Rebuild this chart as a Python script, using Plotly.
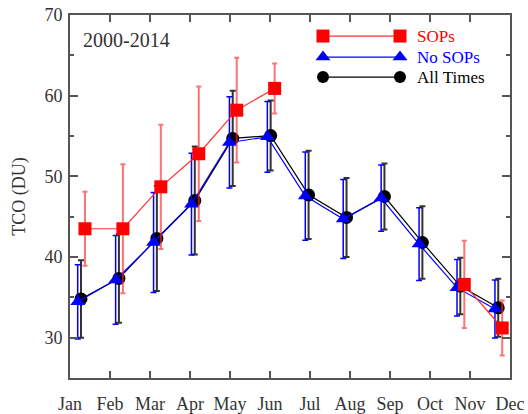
import plotly.graph_objects as go

# ---------------- data ----------------
months = ["Jan", "Feb", "Mar", "Apr", "May", "Jun",
          "Jul", "Aug", "Sep", "Oct", "Nov", "Dec"]
month_num = [1, 2, 3, 4, 5, 6, 7, 8, 9, 10, 11, 12]

sops = [43.5, 43.5, 48.7, 52.8, 58.2, 60.9, None, None, None, None, 36.6, 31.2]
sops_err = [4.6, 8.0, 7.7, 8.35, 6.5, 3.1, None, None, None, None, 5.4, 3.4]

no_sops = [34.45, 37.15, 41.8, 46.55, 54.2, 54.9, 47.55, 44.7, 47.3, 41.6, 36.2, 33.55]
no_sops_err = [4.6, 5.5, 6.2, 6.3, 5.66, 4.38, 5.47, 4.9, 4.1, 4.5, 3.5, 3.6]

all_times = [34.8, 37.35, 42.3, 47.0, 54.7, 55.05, 47.7, 44.9, 47.5, 41.8, 36.4, 33.7]
all_times_err = [4.8, 5.5, 6.5, 6.7, 5.9, 4.34, 5.47, 4.9, 4.1, 4.5, 3.5, 3.6]

series_names = ["SOPs", "No SOPs", "All Times"]
period_label = "2000-2014"

# ---------------- styling ----------------
FONT = "Liberation Serif, Times New Roman, serif"
RED, BLUE, BLACK = "#ff0000", "#0000ff", "#000000"
FRAME = "#555555"
off_blue, off_red = -0.087, 0.105

x_lo, x_hi = 0.71, 12.31
tick_step = (x_hi - x_lo) / 11
x_ticks = [x_lo + k * tick_step for k in range(12)]

fig = go.Figure()

fig.add_trace(go.Scatter(
    x=month_num, y=all_times, mode="lines+markers", name=series_names[2],
    line=dict(color=BLACK, width=1.2),
    marker=dict(symbol="circle", size=13, color=BLACK),
    error_y=dict(type="data", array=all_times_err, visible=True,
                 color="#333333", thickness=2, width=3),
    showlegend=False))

fig.add_trace(go.Scatter(
    x=[m + off_blue for m in month_num], y=no_sops, mode="lines+markers",
    name=series_names[1],
    line=dict(color=BLUE, width=1.2),
    marker=dict(symbol="triangle-up", size=13, color=BLUE),
    error_y=dict(type="data", array=no_sops_err, visible=True,
                 color=BLUE, thickness=1.5, width=3),
    showlegend=False))

fig.add_trace(go.Scatter(
    x=[m + off_red for m in month_num], y=sops, mode="lines+markers",
    name=series_names[0],
    line=dict(color="#ff3030", width=1.2),
    marker=dict(symbol="square", size=13, color=RED),
    error_y=dict(type="data", array=sops_err, visible=True,
                 color="rgba(255,40,40,0.65)", thickness=2, width=2.5),
    showlegend=False))

# ---------------- custom legend (overlay axes in [0,1]) ----------------
leg_y = [0.942, 0.884, 0.829]
leg_sym = ["square", "triangle-up", "circle"]
leg_col = [RED, BLUE, BLACK]
leg_line = ["#ff3030", BLUE, BLACK]
leg_size = [13, 13, 12]
for name, yy, sym, col, lc, sz in zip(series_names, leg_y, leg_sym, leg_col, leg_line, leg_size):
    fig.add_trace(go.Scatter(
        x=[0.575, 0.75], y=[yy, yy], mode="lines+markers",
        xaxis="x2", yaxis="y2",
        line=dict(color=lc, width=1.2),
        marker=dict(symbol=sym, size=sz, color=col),
        showlegend=False, hoverinfo="skip"))
    fig.add_annotation(x=0.784, y=yy, xref="paper", yref="paper", text=name,
                       showarrow=False, xanchor="left", yanchor="middle",
                       font=dict(family=FONT, size=17, color=col))

fig.add_annotation(x=0.026, y=0.930, xref="paper", yref="paper", text=period_label,
                   showarrow=False, xanchor="left", yanchor="middle",
                   font=dict(family=FONT, size=20, color="#333333"))

fig.update_layout(
    width=528, height=414,
    margin=dict(l=70, r=18, t=15, b=36),
    paper_bgcolor="white", plot_bgcolor="white",
    font=dict(family=FONT, size=18, color="#333333"),
    xaxis=dict(range=[x_lo, x_hi], tickvals=x_ticks, ticktext=months,
               ticks="inside", ticklen=7, tickwidth=1.5, tickcolor=FRAME,
               showline=True, linewidth=2, linecolor=FRAME, mirror="ticks",
               showgrid=False, zeroline=False, ticklabelstandoff=8,
               automargin=False,
               tickfont=dict(family=FONT, size=18, color="#333333")),
    yaxis=dict(range=[25, 70], tickvals=[30, 40, 50, 60, 70],
               ticks="inside", ticklen=8, tickwidth=1.5, tickcolor=FRAME,
               minor=dict(tickvals=[35, 45, 55, 65], ticks="inside", ticklen=4,
                          tickwidth=1.5, tickcolor=FRAME, showgrid=False),
               showline=True, linewidth=2, linecolor=FRAME, mirror="ticks",
               showgrid=False, zeroline=False, ticklabelstandoff=2,
               automargin=False,
               tickfont=dict(family=FONT, size=18, color="#333333"),
               title=dict(text="TCO (DU)", standoff=14,
                          font=dict(family=FONT, size=18, color="#333333"))),
    xaxis2=dict(overlaying="x", range=[0, 1], visible=False, anchor="y2", fixedrange=True),
    yaxis2=dict(overlaying="y", range=[0, 1], visible=False, anchor="x2", fixedrange=True),
)

fig.write_html("out.html", config={"displayModeBar": False},
               post_script="document.body.style.margin='0';document.body.style.padding='0';")
